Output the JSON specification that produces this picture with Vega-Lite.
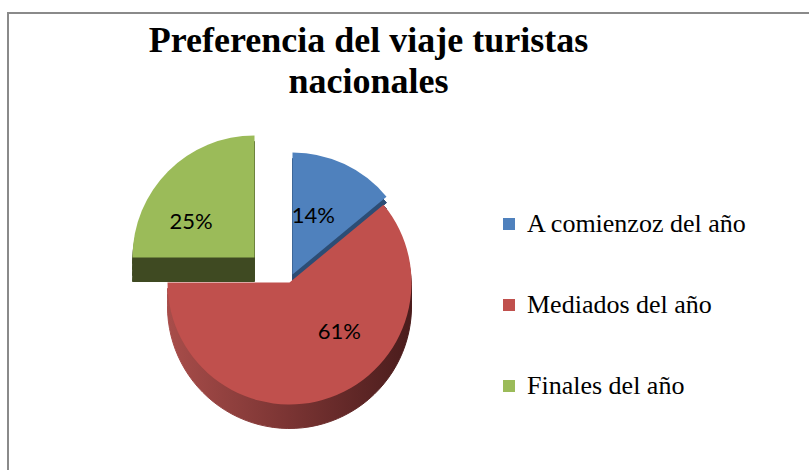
{
  "$schema": "https://vega.github.io/schema/vega-lite/v6.json",
  "width": 811,
  "height": 467,
  "autosize": {"type": "none"},
  "padding": {"left": 8, "top": 13, "right": 0, "bottom": 0},
  "background": "white",
  "view": {"stroke": "#8a8a8a", "strokeWidth": 2, "fill": "white"},
  "title": {
    "text": ["Preferencia del viaje  turistas", "nacionales"],
    "font": "Liberation Serif",
    "fontSize": 36,
    "fontWeight": "bold",
    "color": "#000000",
    "lineHeight": 41,
    "anchor": "middle",
    "frame": "group",
    "dx": -45,
    "offset": -88
  },
  "config": {
    "font": "Liberation Serif",
    "legend": {
      "symbolType": "square",
      "symbolSize": 144,
      "symbolStrokeWidth": 0,
      "labelFont": "Liberation Serif",
      "labelFontSize": 26,
      "labelColor": "#000000",
      "labelLimit": 0,
      "rowPadding": 55,
      "labelOffset": 5,
      "padding": 0
    }
  },
  "data": {
    "values": [
      {"cat": "A comienzoz del año", "pct": 0.14, "orden": 1},
      {"cat": "Mediados del año", "pct": 0.61, "orden": 2},
      {"cat": "Finales del año", "pct": 0.25, "orden": 3}
    ]
  },
  "layer": [
    {"mark": {"type": "arc", "radius": 122, "xOffset": -159, "yOffset": 35, "color": "#3f4a22", "stroke": "#3f4a22", "strokeWidth": 1},
     "encoding": {"theta": {"field": "pct", "type": "quantitative", "stack": true}, "order": {"field": "orden", "type": "quantitative"},
       "opacity": {"condition": {"test": "datum.cat === 'Finales del año'", "value": 1}, "value": 0}}},
    {"mark": {"type": "arc", "radius": 122, "xOffset": -159, "yOffset": 29, "color": "#3f4a22", "stroke": "#3f4a22", "strokeWidth": 1},
     "encoding": {"theta": {"field": "pct", "type": "quantitative", "stack": true}, "order": {"field": "orden", "type": "quantitative"},
       "opacity": {"condition": {"test": "datum.cat === 'Finales del año'", "value": 1}, "value": 0}}},
    {"mark": {"type": "arc", "radius": 122, "xOffset": -159, "yOffset": 23, "color": "#3f4a22", "stroke": "#3f4a22", "strokeWidth": 1},
     "encoding": {"theta": {"field": "pct", "type": "quantitative", "stack": true}, "order": {"field": "orden", "type": "quantitative"},
       "opacity": {"condition": {"test": "datum.cat === 'Finales del año'", "value": 1}, "value": 0}}},
    {"mark": {"type": "arc", "radius": 122, "xOffset": -159, "yOffset": 17, "color": "#3f4a22", "stroke": "#3f4a22", "strokeWidth": 1},
     "encoding": {"theta": {"field": "pct", "type": "quantitative", "stack": true}, "order": {"field": "orden", "type": "quantitative"},
       "opacity": {"condition": {"test": "datum.cat === 'Finales del año'", "value": 1}, "value": 0}}},
    {"mark": {"type": "arc", "radius": 122, "xOffset": -159, "yOffset": 11},
     "encoding": {"theta": {"field": "pct", "type": "quantitative", "stack": true}, "order": {"field": "orden", "type": "quantitative"},
       "color": {"field": "cat", "type": "nominal", "title": null,
         "scale": {"domain": ["A comienzoz del año", "Mediados del año", "Finales del año"], "range": ["#4f81bd", "#c0504d", "#9bbb59"]},
         "legend": {"orient": "none", "legendX": 488, "legendY": 198, "labelFont": "Liberation Serif", "labelFontSize": 26, "labelLimit": 0}},
       "opacity": {"condition": {"test": "datum.cat === 'Finales del año'", "value": 1}, "value": 0}}},

    {"mark": {"type": "arc", "radius": 122, "xOffset": -121, "yOffset": 52, "color": "#2c4d75", "stroke": "#2c4d75", "strokeWidth": 1},
     "encoding": {"theta": {"field": "pct", "type": "quantitative", "stack": true}, "order": {"field": "orden", "type": "quantitative"},
       "opacity": {"condition": {"test": "datum.cat === 'A comienzoz del año'", "value": 1}, "value": 0}}},
    {"mark": {"type": "arc", "radius": 122, "xOffset": -121, "yOffset": 46, "color": "#2c4d75", "stroke": "#2c4d75", "strokeWidth": 1},
     "encoding": {"theta": {"field": "pct", "type": "quantitative", "stack": true}, "order": {"field": "orden", "type": "quantitative"},
       "opacity": {"condition": {"test": "datum.cat === 'A comienzoz del año'", "value": 1}, "value": 0}}},
    {"mark": {"type": "arc", "radius": 122, "xOffset": -121, "yOffset": 40, "color": "#2c4d75", "stroke": "#2c4d75", "strokeWidth": 1},
     "encoding": {"theta": {"field": "pct", "type": "quantitative", "stack": true}, "order": {"field": "orden", "type": "quantitative"},
       "opacity": {"condition": {"test": "datum.cat === 'A comienzoz del año'", "value": 1}, "value": 0}}},
    {"mark": {"type": "arc", "radius": 122, "xOffset": -121, "yOffset": 34, "color": "#2c4d75", "stroke": "#2c4d75", "strokeWidth": 1},
     "encoding": {"theta": {"field": "pct", "type": "quantitative", "stack": true}, "order": {"field": "orden", "type": "quantitative"},
       "opacity": {"condition": {"test": "datum.cat === 'A comienzoz del año'", "value": 1}, "value": 0}}},
    {"mark": {"type": "arc", "radius": 122, "xOffset": -121, "yOffset": 28},
     "encoding": {"theta": {"field": "pct", "type": "quantitative", "stack": true}, "order": {"field": "orden", "type": "quantitative"},
       "color": {"field": "cat", "type": "nominal"},
       "opacity": {"condition": {"test": "datum.cat === 'A comienzoz del año'", "value": 1}, "value": 0}}},

    {"mark": {"type": "arc", "radius": 122, "xOffset": -124, "yOffset": 60,
       "color": {"gradient": "linear", "x1": 0, "y1": 0, "x2": 1, "y2": 0, "stops": [{"offset": 0, "color": "#a84d4a"}, {"offset": 0.5, "color": "#7a3433"}, {"offset": 1, "color": "#4a1c1c"}]},
       "stroke": {"gradient": "linear", "x1": 0, "y1": 0, "x2": 1, "y2": 0, "stops": [{"offset": 0, "color": "#a84d4a"}, {"offset": 0.5, "color": "#7a3433"}, {"offset": 1, "color": "#4a1c1c"}]},
       "strokeWidth": 1},
     "encoding": {"theta": {"field": "pct", "type": "quantitative", "stack": true}, "order": {"field": "orden", "type": "quantitative"},
       "opacity": {"condition": {"test": "datum.cat === 'Mediados del año'", "value": 1}, "value": 0}}},
    {"mark": {"type": "arc", "radius": 122, "xOffset": -124, "yOffset": 54,
       "color": {"gradient": "linear", "x1": 0, "y1": 0, "x2": 1, "y2": 0, "stops": [{"offset": 0, "color": "#a84d4a"}, {"offset": 0.5, "color": "#7a3433"}, {"offset": 1, "color": "#4a1c1c"}]},
       "stroke": {"gradient": "linear", "x1": 0, "y1": 0, "x2": 1, "y2": 0, "stops": [{"offset": 0, "color": "#a84d4a"}, {"offset": 0.5, "color": "#7a3433"}, {"offset": 1, "color": "#4a1c1c"}]},
       "strokeWidth": 1},
     "encoding": {"theta": {"field": "pct", "type": "quantitative", "stack": true}, "order": {"field": "orden", "type": "quantitative"},
       "opacity": {"condition": {"test": "datum.cat === 'Mediados del año'", "value": 1}, "value": 0}}},
    {"mark": {"type": "arc", "radius": 122, "xOffset": -124, "yOffset": 48,
       "color": {"gradient": "linear", "x1": 0, "y1": 0, "x2": 1, "y2": 0, "stops": [{"offset": 0, "color": "#a84d4a"}, {"offset": 0.5, "color": "#7a3433"}, {"offset": 1, "color": "#4a1c1c"}]},
       "stroke": {"gradient": "linear", "x1": 0, "y1": 0, "x2": 1, "y2": 0, "stops": [{"offset": 0, "color": "#a84d4a"}, {"offset": 0.5, "color": "#7a3433"}, {"offset": 1, "color": "#4a1c1c"}]},
       "strokeWidth": 1},
     "encoding": {"theta": {"field": "pct", "type": "quantitative", "stack": true}, "order": {"field": "orden", "type": "quantitative"},
       "opacity": {"condition": {"test": "datum.cat === 'Mediados del año'", "value": 1}, "value": 0}}},
    {"mark": {"type": "arc", "radius": 122, "xOffset": -124, "yOffset": 42,
       "color": {"gradient": "linear", "x1": 0, "y1": 0, "x2": 1, "y2": 0, "stops": [{"offset": 0, "color": "#a84d4a"}, {"offset": 0.5, "color": "#7a3433"}, {"offset": 1, "color": "#4a1c1c"}]},
       "stroke": {"gradient": "linear", "x1": 0, "y1": 0, "x2": 1, "y2": 0, "stops": [{"offset": 0, "color": "#a84d4a"}, {"offset": 0.5, "color": "#7a3433"}, {"offset": 1, "color": "#4a1c1c"}]},
       "strokeWidth": 1},
     "encoding": {"theta": {"field": "pct", "type": "quantitative", "stack": true}, "order": {"field": "orden", "type": "quantitative"},
       "opacity": {"condition": {"test": "datum.cat === 'Mediados del año'", "value": 1}, "value": 0}}},
    {"mark": {"type": "arc", "radius": 122, "xOffset": -124, "yOffset": 36},
     "encoding": {"theta": {"field": "pct", "type": "quantitative", "stack": true}, "order": {"field": "orden", "type": "quantitative"},
       "color": {"field": "cat", "type": "nominal"},
       "opacity": {"condition": {"test": "datum.cat === 'Mediados del año'", "value": 1}, "value": 0}}},

    {"mark": {"type": "text", "radius": 70, "xOffset": -159, "yOffset": 11, "dx": -14, "dy": 14, "font": "Lato", "fontSize": 22, "color": "#000000"},
     "encoding": {"theta": {"field": "pct", "type": "quantitative", "stack": true}, "order": {"field": "orden", "type": "quantitative"},
       "text": {"field": "pct", "type": "quantitative", "format": ".0%"},
       "opacity": {"condition": {"test": "datum.cat === 'Finales del año'", "value": 1}, "value": 0}}},
    {"mark": {"type": "text", "radius": 70, "xOffset": -121, "yOffset": 28, "dx": -9, "dy": 5, "font": "Lato", "fontSize": 22, "color": "#000000"},
     "encoding": {"theta": {"field": "pct", "type": "quantitative", "stack": true}, "order": {"field": "orden", "type": "quantitative"},
       "text": {"field": "pct", "type": "quantitative", "format": ".0%"},
       "opacity": {"condition": {"test": "datum.cat === 'A comienzoz del año'", "value": 1}, "value": 0}}},
    {"mark": {"type": "text", "radius": 70, "xOffset": -124, "yOffset": 36, "dx": 26, "dy": -16, "font": "Lato", "fontSize": 22, "color": "#000000"},
     "encoding": {"theta": {"field": "pct", "type": "quantitative", "stack": true}, "order": {"field": "orden", "type": "quantitative"},
       "text": {"field": "pct", "type": "quantitative", "format": ".0%"},
       "opacity": {"condition": {"test": "datum.cat === 'Mediados del año'", "value": 1}, "value": 0}}}
  ]
}
